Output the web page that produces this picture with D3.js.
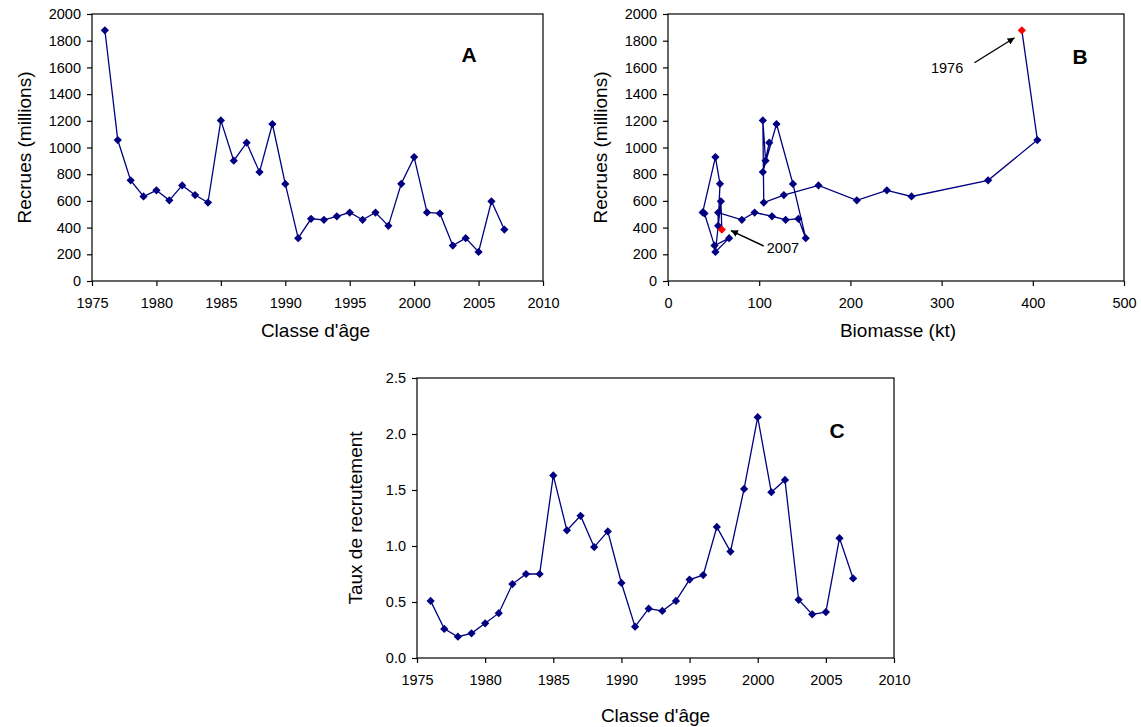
<!DOCTYPE html>
<html>
<head>
<meta charset="utf-8">
<script src="https://cdn.jsdelivr.net/npm/d3@7"></script>
<style>
  body { margin: 0; background: #fff; }
  svg { display: block; font-family: 'Liberation Sans', Arial, sans-serif; }
  .axis path, .axis line { stroke: #000; stroke-width: 1.2; }
  .axis text { font-size: 14.5px; fill: #000; font-family: 'Liberation Sans', Arial, sans-serif; }
  .axis-title { font-size: 19px; fill: #000; }
  .panel-letter { font-size: 21px; font-weight: bold; fill: #000; }
  .note { font-size: 14.5px; fill: #000; }
</style>
</head>
<body>
<div id="chart-area"></div>
<script>

// Data
var years = d3.range(1976, 2008);

var recruits = [1878, 1056, 754, 633, 679, 604, 716, 644, 588, 1203,
  901, 1036, 816, 1176, 727, 321, 466, 458, 485, 513,
  458, 513, 413, 728, 928, 514, 506, 265, 321, 218,
  597, 385];

var biomass = [388, 405, 351, 267, 240, 207, 165, 127, 105, 104,
  107, 111, 104, 119, 137, 151, 143, 129, 114, 95,
  81, 55, 55, 57, 52, 38, 40, 51, 67, 52,
  58, 59];

var rate = [0.51, 0.26, 0.19, 0.22, 0.31, 0.40, 0.66, 0.75, 0.75, 1.63,
  1.14, 1.27, 0.99, 1.13, 0.67, 0.28, 0.44, 0.42, 0.51, 0.70,
  0.74, 1.17, 0.95, 1.51, 2.15, 1.48, 1.59, 0.52, 0.39, 0.41,
  1.07, 0.71];

var yearTicks = [1975, 1980, 1985, 1990, 1995, 2000, 2005, 2010];
var recruitTicks = [0, 200, 400, 600, 800, 1000, 1200, 1400, 1600, 1800, 2000];
var biomassTicks = [0, 100, 200, 300, 400, 500];
var rateTicks = [0, 0.5, 1.0, 1.5, 2.0, 2.5];

var highlightYears = [1976, 2007];

var navy = '#000080';

var svg = d3.select('#chart-area')
  .append('svg')
    .attr('width', 1141)
    .attr('height', 727);

// diamond marker = rotated square
var diamond = d3.symbol().type(d3.symbolSquare).size(34);

function drawPanel(p) {
  var g = svg.append('g')
    .attr('transform', 'translate(' + p.left + ', ' + p.top + ')');

  var width = p.width;
  var height = p.height;

  var x = d3.scaleLinear().domain(p.xDomain).range([0, width]);
  var y = d3.scaleLinear().domain(p.yDomain).range([height, 0]);

  // frame
  g.append('rect')
    .attr('width', width)
    .attr('height', height)
    .attr('fill', 'none')
    .attr('stroke', '#000')
    .attr('stroke-width', 1.2);

  // X Axis
  g.append('g')
    .attr('class', 'axis')
    .attr('transform', 'translate(0, ' + height + ')')
    .call(d3.axisBottom(x).tickValues(p.xTicks).tickSize(5).tickPadding(12).tickSizeOuter(0)
      .tickFormat(d3.format('d')))
    .call((s) => s.select('.domain').remove());

  // Y Axis
  g.append('g')
    .attr('class', 'axis')
    .call(d3.axisLeft(y).tickValues(p.yTicks).tickSize(5).tickPadding(6).tickSizeOuter(0)
      .tickFormat(p.yFormat || d3.format('d')))
    .call((s) => s.select('.domain').remove());

  // X label
  g.append('text')
    .attr('class', 'axis-title')
    .attr('x', width / 2 + p.xLabelShift)
    .attr('y', height + p.xLabelY)
    .attr('text-anchor', 'middle')
    .text(p.xLabel);

  // Y label
  g.append('text')
    .attr('class', 'axis-title')
    .attr('x', -(height / 2) + p.yLabelShift)
    .attr('y', p.yLabelX)
    .attr('text-anchor', 'middle')
    .attr('transform', 'rotate(-90)')
    .text(p.yLabel);

  // panel letter
  g.append('text')
    .attr('class', 'panel-letter')
    .attr('x', p.letterX)
    .attr('y', p.letterY)
    .attr('text-anchor', 'middle')
    .text(p.letter);

  var line = d3.line()
    .x((d) => x(d.x))
    .y((d) => y(d.y));

  g.append('path')
    .datum(p.data)
    .attr('d', line)
    .attr('fill', 'none')
    .attr('stroke', navy)
    .attr('stroke-width', 1.3);

  g.selectAll('path.pt')
    .data(p.data)
    .enter()
    .append('path')
      .attr('class', 'pt')
      .attr('d', diamond)
      .attr('transform', (d) => 'translate(' + x(d.x) + ', ' + y(d.y) + ') rotate(45)')
      .attr('fill', (d) => p.highlight && highlightYears.indexOf(d.year) >= 0 ? '#ff0000' : navy);

  return { g: g, x: x, y: y };
}

var dataA = years.map((yr, i) => ({ year: yr, x: yr, y: recruits[i] }));
var dataB = years.map((yr, i) => ({ year: yr, x: biomass[i], y: recruits[i] }));
var dataC = years.map((yr, i) => ({ year: yr, x: yr, y: rate[i] }));

drawPanel({
  left: 92, top: 14, width: 451, height: 267,
  xDomain: [1975, 2010], yDomain: [0, 2000],
  xTicks: yearTicks, yTicks: recruitTicks,
  xLabel: "Classe d'âge", xLabelY: 56, xLabelShift: -2,
  yLabel: 'Recrues (millions)', yLabelX: -61, yLabelShift: 0,
  letter: 'A', letterX: 377, letterY: 48,
  data: dataA
});

var panelB = drawPanel({
  left: 668, top: 14, width: 456, height: 267,
  xDomain: [0, 500], yDomain: [0, 2000],
  xTicks: biomassTicks, yTicks: recruitTicks,
  xLabel: 'Biomasse (kt)', xLabelY: 56, xLabelShift: 2,
  yLabel: 'Recrues (millions)', yLabelX: -61, yLabelShift: 0,
  letter: 'B', letterX: 412, letterY: 50,
  data: dataB, highlight: true
});

drawPanel({
  left: 417, top: 378, width: 477, height: 280,
  xDomain: [1975, 2010], yDomain: [0, 2.5],
  xTicks: yearTicks, yTicks: rateTicks, yFormat: d3.format('.1f'),
  xLabel: "Classe d'âge", xLabelY: 64, xLabelShift: 0,
  yLabel: 'Taux de recrutement', yLabelX: -55, yLabelShift: 0,
  letter: 'C', letterX: 420, letterY: 60,
  data: dataC
});

// arrows in panel B
svg.append('defs').append('marker')
  .attr('id', 'arrow')
  .attr('viewBox', '0 0 10 10')
  .attr('refX', 10)
  .attr('refY', 5)
  .attr('markerWidth', 5)
  .attr('markerHeight', 5)
  .attr('orient', 'auto')
  .append('path')
    .attr('d', 'M0,0 L10,5 L0,10 z')
    .attr('fill', '#000');

var gB = panelB.g;
var bx = panelB.x;
var by = panelB.y;

// 1976
gB.append('line')
  .attr('x1', bx(336)).attr('y1', by(1635))
  .attr('x2', bx(380)).attr('y2', by(1822))
  .attr('stroke', '#000')
  .attr('stroke-width', 1.4)
  .attr('marker-end', 'url(#arrow)');
gB.append('text')
  .attr('class', 'note')
  .attr('x', bx(306))
  .attr('y', by(1557))
  .attr('text-anchor', 'middle')
  .text('1976');

// 2007
gB.append('line')
  .attr('x1', bx(105)).attr('y1', by(262))
  .attr('x2', bx(69)).attr('y2', by(378))
  .attr('stroke', '#000')
  .attr('stroke-width', 1.4)
  .attr('marker-end', 'url(#arrow)');
gB.append('text')
  .attr('class', 'note')
  .attr('x', bx(126))
  .attr('y', by(206))
  .attr('text-anchor', 'middle')
  .text('2007');

</script>
</body>
</html>
